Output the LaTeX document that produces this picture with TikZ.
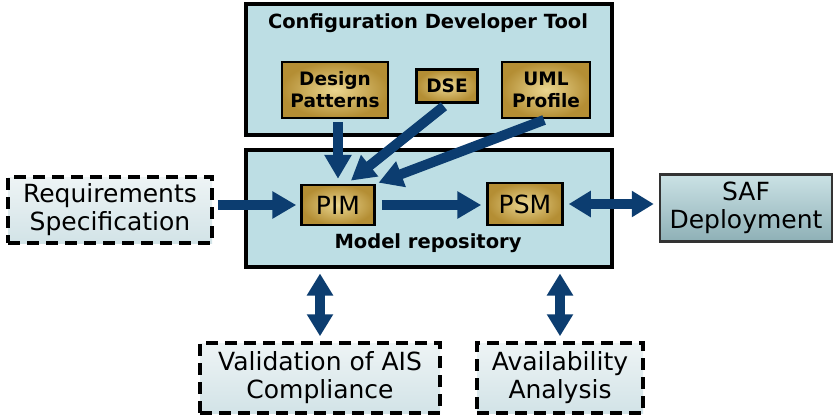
\documentclass[tikz,border=0pt]{standalone}
\usepackage{fontspec}
\setmainfont{DejaVu Sans}
\usetikzlibrary{arrows.meta,calc}
\definecolor{panelblue}{HTML}{BDDEE4}
\definecolor{flowblue}{HTML}{0C3D70}
\definecolor{goldin}{HTML}{EAD690}
\definecolor{goldout}{HTML}{B48E34}
\definecolor{extlight}{HTML}{EEF4F5}
\definecolor{extdark}{HTML}{D2E3E7}
\definecolor{saftop}{HTML}{CBE2E5}
\definecolor{safbot}{HTML}{8EB0B6}
\tikzset{
  panel/.style={draw=black, line width=4pt, fill=panelblue, rectangle, inner sep=0pt},
  paneltitle/.style={font=\bfseries\fontsize{19.5}{23}\selectfont},
  goldbox/.style={draw=black, line width=2.5pt, inner color=goldin, outer color=goldout,
    rectangle, inner sep=0pt, align=center},
  goldtext/.style={font=\bfseries\fontsize{18.5}{22}\selectfont},
  modeltext/.style={font=\fontsize{25}{28}\selectfont},
  extbox/.style={draw=black, line width=3.5pt, dash pattern=on 12pt off 7pt,
    top color=extlight, bottom color=extdark, rectangle, inner sep=0pt, align=center,
    font=\fontsize{25}{28}\selectfont},
  safbox/.style={draw=black!80, line width=2.5pt, top color=saftop, bottom color=safbot,
    rectangle, inner sep=0pt, align=center, font=\fontsize{25}{28}\selectfont},
  flow/.style={draw=flowblue, line width=10pt, -{Triangle[length=24pt,width=26pt]}},
  biflow/.style={draw=flowblue, line width=10pt,
    {Triangle[length=22pt,width=25pt]}-{Triangle[length=22pt,width=25pt]}}
}
\begin{document}
\begin{tikzpicture}[x=1pt,y=-1pt]
\useasboundingbox (0,0) rectangle (833,416);

% configuration developer tool panel
\node[panel, minimum width=366pt, minimum height=131pt] (cdt) at (429,69) {};
\node[paneltitle] (cdttitle) at (428,23) {Configuration Developer Tool};
\node[goldbox, goldtext, minimum width=106pt, minimum height=56pt] (dp) at (335,90) {Design\\Patterns};
\node[goldbox, goldtext, minimum width=61pt, minimum height=33pt] (dse) at (447,86) {DSE};
\node[goldbox, goldtext, minimum width=88pt, minimum height=56pt] (uml) at (546,90) {UML\\Profile};

% model repository panel
\node[panel, minimum width=366pt, minimum height=117pt] (repo) at (429,208) {};
\node[paneltitle] (repotitle) at (428,243) {Model repository};
\node[goldbox, modeltext, minimum width=73pt, minimum height=40pt] (pim) at (338,205) {PIM};
\node[goldbox, modeltext, minimum width=75pt, minimum height=42pt] (psm) at (525,204) {PSM};

% surrounding artefacts
\node[extbox, minimum width=204pt, minimum height=66pt] (req) at (110,210) {Requirements\\Specification};
\node[safbox, minimum width=172pt, minimum height=67pt] (saf) at (746,208) {SAF\\Deployment};
\node[extbox, minimum width=240pt, minimum height=70pt] (valid) at (320,378) {Validation of AIS\\Compliance};
\node[extbox, minimum width=166pt, minimum height=70pt] (avail) at (560,378) {Availability\\Analysis};

% flows into and out of the repository
\draw[flow, shorten <=3pt] (pim.north |- dp.south) -- ($(pim.north)+(0,-5)$);
\draw[flow, shorten <=4pt, shorten >=5pt] (dse.south) -- ($(pim.north)+(9,0)$);
\draw[flow, shorten <=2pt, shorten >=3pt] (uml.south) -- (pim.north east);
\draw[flow, shorten <=4pt, shorten >=4pt] (req.east |- pim.west) -- (pim.west);
\draw[flow, shorten <=6pt, shorten >=5pt] (pim.east) -- (pim.east -| psm.west);
\draw[biflow, shorten <=5pt, shorten >=5pt] (psm.east) -- (psm.east -| saf.west);
\draw[biflow, shorten <=5pt, shorten >=5pt] (valid.north) -- (valid.north |- repo.south);
\draw[biflow, shorten <=5pt, shorten >=5pt] (avail.north) -- (avail.north |- repo.south);
\end{tikzpicture}
\end{document}
